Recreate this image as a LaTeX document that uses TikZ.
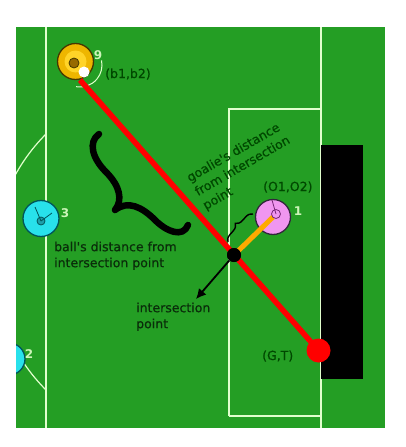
\documentclass[tikz,border=0pt]{standalone}
\usepackage{fontspec}
\setmainfont{DejaVu Sans}
\newfontfamily\lblfont{DejaVu Sans}[FakeBold=0.6]
\usetikzlibrary{decorations.pathreplacing,arrows.meta}
\definecolor{field}{RGB}{36,158,36}
\definecolor{fline}{RGB}{225,255,205}
\definecolor{lbl}{RGB}{0,72,0}
\definecolor{lbldark}{RGB}{10,45,10}
\definecolor{numc}{RGB}{205,245,185}
\definecolor{gold}{RGB}{238,182,0}
\definecolor{goldin}{RGB}{255,212,40}
\definecolor{goldcore}{RGB}{150,105,0}
\definecolor{goldedge}{RGB}{70,55,0}
\definecolor{cyanp}{RGB}{40,225,235}
\definecolor{cyanin}{RGB}{30,160,170}
\definecolor{cyanedge}{RGB}{0,85,90}
\definecolor{pinkp}{RGB}{240,150,240}
\definecolor{pinkedge}{RGB}{50,40,60}
\definecolor{pinkline}{RGB}{120,40,120}
\definecolor{orangel}{RGB}{255,170,0}
\begin{document}
\begin{tikzpicture}[x=1pt,y=-1pt,
  fieldline/.style={draw=fline, line width=1.2pt},
  labeltext/.style={text=lbl, font=\lblfont\fontsize{12.5}{16}\selectfont, inner sep=0pt, align=left},
  number/.style={text=numc, font=\bfseries\fontsize{12}{14}\selectfont, inner sep=0pt},
  player/.style={circle, inner sep=0pt, line width=1.3pt},
  core/.style={circle, inner sep=0pt, line width=0.8pt},
]
\useasboundingbox (0,0) rectangle (405,447);
\fill[field] (16,27) rectangle (385,428);
\begin{scope}
\clip (16,27) rectangle (385,428);
% field lines
\draw[fieldline] (46,27) -- (46,428);
\draw[fieldline] (321,27) -- (321,428);
\draw[fieldline] (229,416) -- (229,109) -- (321,109);
\draw[fieldline] (229,416) -- (321,416);
\begin{scope}
\clip (16,27) rectangle (46,428);
\draw[fieldline] (174,262) circle[radius=181];
\end{scope}
% goal
\fill[black] (321,145) rectangle (363,379);
% player 2
\node[player, draw=cyanedge, fill=cyanp, minimum size=32pt] (p2) at (9,359) {};
% player 3
\node[player, draw=cyanedge, fill=cyanp, minimum size=36pt] (p3) at (41,218.5) {};
\node[core, draw=cyanedge, fill=cyanin, minimum size=8pt] (p3c) at (41,221) {};
\draw[cyanedge, line width=0.8pt] (p3c.center) -- ++(-6,-14);
\draw[cyanedge, line width=0.8pt] (p3c.center) -- ++(11,-8);
% player 9
\node[player, draw=goldedge, fill=gold, minimum size=36pt] (p9) at (75.5,61.5) {};
\fill[goldin] (p9.center) circle[radius=11];
\node[core, draw=goldedge, fill=goldcore, minimum size=10pt] (p9c) at (74,63) {};
\draw[fline, line width=1pt] (80,65) ++(100:22) arc[start angle=100, end angle=-12, radius=22];
% goal point
\node[circle, fill=red, minimum size=24pt, inner sep=0pt] (gt) at (318.5,350.5) {};
\coordinate (b12) at (80,80);
\draw[red, line width=5.5pt] (b12) -- (gt.center);
% ball
\node[circle, fill=white, minimum size=11pt, inner sep=0pt] (ball) at (84,72) {};
% goalie
\node[player, draw=pinkedge, fill=pinkp, minimum size=35pt] (p1) at (273,217) {};
% intersection
\node[circle, fill=black, minimum size=14pt, inner sep=0pt] (int) at (234,255) {};
\draw[orangel, line width=5pt] (int.center) -- (p1.center);
\node[circle, fill=black, minimum size=14pt, inner sep=0pt] at (int.center) {};
\node[core, draw=pinkline, fill=pinkp, minimum size=9pt] (p1c) at (276,214) {};
\draw[pinkline, line width=0.8pt] (p1c.center) -- ++(-4,-14);
% arrow
\coordinate (arrtip) at (196,299);
\draw[line width=1.8pt, -{Latex[length=10pt,width=10pt]}] (int) -- (arrtip);
% braces
\draw[black, line width=6.5pt, line cap=round, line join=round]
  (99,134) .. controls (88,142) and (92,158) .. (106,172)
  .. controls (120,186) and (123,200) .. (115,210)
  .. controls (128,200) and (142,207) .. (155,220)
  .. controls (167,232) and (183,238) .. (188,225);
\draw[black, line width=1.4pt, decorate, decoration={brace, amplitude=7pt}] (228,242) -- (253,214);
% labels
\node[labeltext, anchor=base west] (lb) at (105,78) {(b1,b2)};
\node[labeltext, anchor=base west] (lo) at (263,191) {(O1,O2)};
\node[labeltext, anchor=base west] (lg) at (262,360) {(G,T)};
\node[labeltext, text=lbldark, anchor=north west] (lball) at (54,241.5) {ball's distance from\\intersection point};
\node[labeltext, text=lbldark, anchor=north west] (lint) at (136,302.5) {intersection\\point};
\node[labeltext, anchor=north west, rotate=30] (lgoal) at (185,174) {goalie's distance\\from intersection\\point};
\node[number] (n9) at (98,55) {9};
\node[number] (n3) at (65,213) {3};
\node[number] (n1) at (298,211) {1};
\node[number] (n2) at (29,354) {2};
\end{scope}
\end{tikzpicture}
\end{document}
